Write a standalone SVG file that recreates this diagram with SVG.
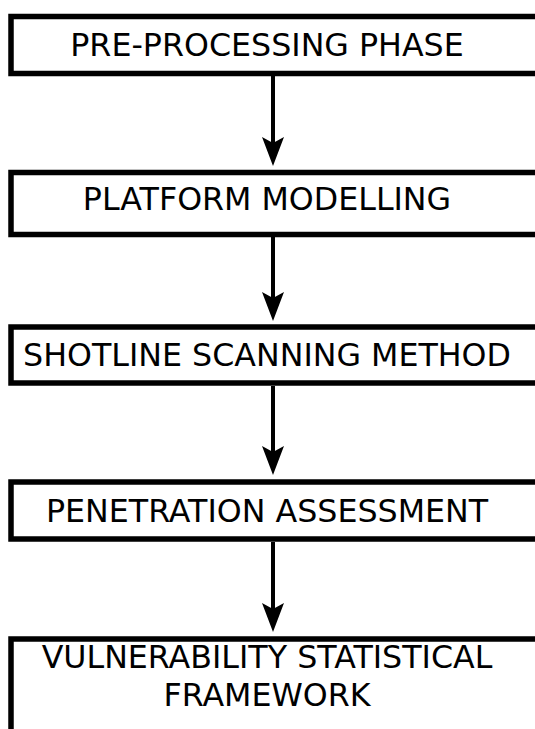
<svg xmlns="http://www.w3.org/2000/svg" width="535" height="729" viewBox="0 0 535 729">
  <style>
    .box { fill: #ffffff; stroke: #000000; stroke-width: 5.5; }
    .label { font-family: "DejaVu Sans", Verdana, sans-serif; font-size: 31.7px; fill: #000000; text-anchor: middle; }
    .flow { stroke: #000000; stroke-width: 4; fill: none; marker-end: url(#head); }
  </style>
  <defs>
    <marker id="head" markerUnits="userSpaceOnUse" markerWidth="30" markerHeight="24" viewBox="0 0 30 24" refX="6" refY="12" orient="auto">
      <path d="M0,1 L29,12 L0,23 L6,12 Z" fill="#000000"/>
    </marker>
  </defs>
  <rect width="535" height="729" fill="#ffffff"/>

  <g id="connectors">
    <path class="flow" d="M273,76 V143"/>
    <path class="flow" d="M273,237 V298"/>
    <path class="flow" d="M273,386 V452"/>
    <path class="flow" d="M273,542 V609"/>
  </g>

  <g id="node-preprocessing">
    <rect class="box" x="11" y="16.5" width="540" height="57"/>
    <text class="label" x="267" y="56">PRE-PROCESSING PHASE</text>
  </g>
  <g id="node-platform">
    <rect class="box" x="11" y="172.5" width="540" height="62"/>
    <text class="label" x="267" y="210">PLATFORM MODELLING</text>
  </g>
  <g id="node-shotline">
    <rect class="box" x="11" y="327" width="540" height="56"/>
    <text class="label" x="267" y="366">SHOTLINE SCANNING METHOD</text>
  </g>
  <g id="node-penetration">
    <rect class="box" x="11" y="482" width="540" height="57"/>
    <text class="label" x="267" y="522">PENETRATION ASSESSMENT</text>
  </g>
  <g id="node-vulnerability">
    <rect class="box" x="11" y="639" width="540" height="120"/>
    <text class="label" x="267" y="668">VULNERABILITY STATISTICAL</text>
    <text class="label" x="267" y="706">FRAMEWORK</text>
  </g>
</svg>
